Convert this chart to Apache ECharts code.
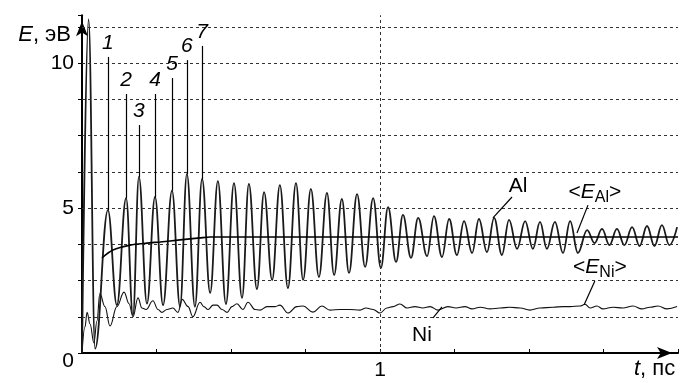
<!DOCTYPE html>
<html><head><meta charset="utf-8">
<script src="https://cdn.jsdelivr.net/npm/echarts@6/dist/echarts.min.js"></script>
<style>html,body{margin:0;padding:0;background:#fff}#c{width:680px;height:383px}</style>
</head><body><div id="c"></div>
<script>
// ---- data (time in ps, energy in eV) ----
const alT = [0, 0.022, 0.044, 0.087, 0.117, 0.148, 0.171, 0.191, 0.218, 0.245, 0.272, 0.302, 0.329, 0.352, 0.379, 0.403,
  0.430, 0.456, 0.483, 0.510, 0.537, 0.560, 0.587, 0.611, 0.638, 0.664, 0.691, 0.718, 0.742, 0.768, 0.795, 0.822,
  0.846, 0.872, 0.896, 0.923, 0.950, 0.977, 1.003, 1.027, 1.054, 1.077, 1.104, 1.128, 1.158, 1.181, 1.208, 1.232,
  1.258, 1.282, 1.309, 1.332, 1.359, 1.383, 1.409, 1.433, 1.460, 1.487, 1.513, 1.537, 1.560, 1.587, 1.614, 1.638,
  1.664, 1.695, 1.720, 1.745, 1.770, 1.795, 1.820, 1.846, 1.871, 1.896, 1.921, 1.946, 1.971, 1.997];
const alE = [0, 11.5, 0.15, 4.93, 1.65, 5.34, 1.3, 6.07, 1.7, 5.38, 1.65, 5.6, 1.6, 6.17, 1.6, 6.0,
  2.07, 5.93, 1.69, 5.86, 1.9, 5.83, 2.2, 5.55, 2.52, 5.79, 2.24, 5.86, 2.52, 5.66, 2.62, 5.52,
  2.69, 5.31, 2.76, 5.48, 2.97, 5.34, 2.93, 5.03, 3.14, 4.76, 3.28, 4.66, 3.34, 4.72, 3.31, 4.62,
  3.38, 4.55, 3.45, 4.62, 3.48, 4.66, 3.38, 4.59, 3.59, 4.55, 3.59, 4.52, 3.59, 4.52, 3.45, 4.55,
  3.45, 4.24, 3.79, 4.28, 3.72, 4.28, 3.72, 4.34, 3.69, 4.38, 3.69, 4.41, 3.72, 4.34];
const niT = [0, 0.010, 0.017, 0.027, 0.040, 0.050, 0.060, 0.077, 0.094, 0.117, 0.141, 0.158, 0.171, 0.188, 0.201, 0.215,
  0.238, 0.255, 0.268, 0.285, 0.305, 0.322, 0.336, 0.356, 0.372, 0.396, 0.409, 0.423, 0.440, 0.453, 0.470, 0.487,
  0.503, 0.520, 0.540, 0.557, 0.581, 0.597, 0.621, 0.648, 0.664, 0.691, 0.721, 0.742, 0.775, 0.805, 0.832, 0.866,
  0.899, 0.933, 0.953, 0.977, 1.000, 1.023, 1.044, 1.067, 1.091, 1.117, 1.144, 1.168, 1.195, 1.228, 1.255, 1.285,
  1.309, 1.336, 1.369, 1.403, 1.436, 1.470, 1.503, 1.537, 1.581, 1.614, 1.638, 1.671, 1.688, 1.705, 1.728, 1.748,
  1.782, 1.815, 1.849, 1.879, 1.906, 1.933, 1.963, 1.997];
const niE = [0, 0.9, 1.4, 1.0, 0.35, 1.1, 2.05, 1.6, 0.93, 1.6, 2.1, 1.7, 1.25, 1.9, 1.55, 1.5,
  1.8, 1.5, 1.4, 1.5, 1.55, 1.4, 1.85, 1.6, 1.25, 1.75, 1.6, 1.5, 1.65, 1.65, 1.5, 1.4,
  1.6, 1.7, 1.5, 1.75, 1.5, 1.48, 1.6, 1.6, 1.65, 1.38, 1.6, 1.62, 1.41, 1.62, 1.48, 1.5,
  1.5, 1.48, 1.55, 1.5, 1.38, 1.55, 1.6, 1.69, 1.55, 1.6, 1.55, 1.6, 1.48, 1.6, 1.55, 1.6,
  1.52, 1.58, 1.52, 1.55, 1.58, 1.55, 1.48, 1.55, 1.58, 1.6, 1.6, 1.62, 1.68, 1.55, 1.62, 1.52,
  1.58, 1.55, 1.62, 1.52, 1.58, 1.62, 1.52, 1.6];
const avgAlT = [0.067, 0.104, 0.161, 0.218, 0.262, 0.329, 0.396, 0.430, 2.0];
const avgAlE = [3.28, 3.55, 3.72, 3.79, 3.83, 3.9, 3.97, 4.0, 4.0];
const gridE = [1.25, 2.5, 3.75, 5, 6.25, 7.5, 8.75, 10, 11.25];
const gridT = [1];
const yTickLabels = [0, 5, 10];
const xTickLabels = [1];
const peakNames = ['1', '2', '3', '4', '5', '6', '7'];
const peakIdx = [3, 5, 7, 9, 11, 13, 15];

// ---- annotation layout ----
const peakTop = [10.21, 8.93, 7.86, 8.93, 9.48, 10.10, 10.59];
const leaders = [
  {from: [1.379, 4.66], to: [1.443, 5.38]},
  {from: [1.661, 4.14], to: [1.698, 5.10]},
  {from: [1.685, 1.66], to: [1.721, 2.48]},
  {from: [1.208, 1.59], to: [1.178, 1.21]}
];
const texts = [
  {at: [1.463, 5.76], text: '{n|Al}'},
  {at: [1.721, 5.55], text: '{n|<}{i|E}{s|Al}{n|>}'},
  {at: [1.738, 2.97], text: '{n|<}{i|E}{s|Ni}{n|>}'},
  {at: [1.141, 0.62], text: '{n|Ni}'}
];

const FONT = '"Liberation Sans", Arial, sans-serif';
const FS = 21;
const pair = (ts, es) => ts.map((t, i) => [t, es[i]]);
const richIt = {
  n: {fontSize: FS, fontFamily: FONT, color: '#000'},
  i: {fontStyle: 'italic', fontSize: FS, fontFamily: FONT, color: '#000'},
  s: {fontSize: 16, fontFamily: FONT, color: '#000', padding: [12, 0, 0, 0]},
  z: {fontSize: FS, fontFamily: FONT, color: '#000', padding: [16, 0, 0, 0]}
};
const richName = {
  n: {fontSize: 22, fontFamily: FONT, color: '#000'},
  i: {fontStyle: 'italic', fontSize: 22, fontFamily: FONT, color: '#000'}
};

const chart = echarts.init(document.getElementById('c'), null, {renderer: 'canvas'});
const base = {type: 'line', symbol: 'none', showSymbol: false, clip: false, animation: false, silent: true};

chart.setOption({
  animation: false,
  backgroundColor: '#fff',
  grid: {left: 82, right: 2, top: 15.15, bottom: 30, containLabel: false, outerBoundsMode: 'none'},
  xAxis: {
    type: 'value', min: 0, max: 2, interval: 0.25,
    axisLine: {show: true, lineStyle: {color: '#000', width: 2}, symbol: ['none', 'arrow'], symbolSize: [9, 15], symbolOffset: [0, -6]},
    axisTick: {show: true, inside: true, length: 4, lineStyle: {color: '#000', width: 1}},
    splitLine: {show: false},
    axisLabel: {fontSize: FS, fontFamily: FONT, color: '#000', margin: 7,
      formatter: v => xTickLabels.includes(v) ? String(v) : ''},
    name: '{i|t}{n|, пс}', nameLocation: 'end', nameGap: -44, nameMoveOverlap: false,
    nameTextStyle: {fontSize: 22, fontFamily: FONT, color: '#000', align: 'left', verticalAlign: 'top', padding: [5, 0, 0, 0], rich: richName}
  },
  yAxis: {
    type: 'value', min: 0, max: 11.65, interval: 1.25,
    axisLine: {show: true, lineStyle: {color: '#000', width: 2}, symbol: ['none', 'arrow'], symbolSize: [9, 15], symbolOffset: [0, -6]},
    axisTick: {show: true, inside: false, length: 4, lineStyle: {color: '#000', width: 1}},
    splitLine: {show: false},
    axisLabel: {fontSize: FS, fontFamily: FONT, color: '#000', margin: 8, rich: richIt,
      formatter: v => yTickLabels.includes(v) ? (v === 0 ? '{z|0}' : String(v)) : ''},
    name: '{i|E}{n|, эВ}', nameLocation: 'end', nameGap: -20, nameMoveOverlap: false,
    nameTextStyle: {fontSize: 22, fontFamily: FONT, color: '#000', align: 'right', verticalAlign: 'middle', padding: [0, 11, 0, 0], rich: richName}
  },
  series: [
    Object.assign({}, base, {
      name: 'grid', data: [], z: 1,
      markLine: {silent: true, symbol: ['none', 'none'], animation: false,
        lineStyle: {type: [3, 3], color: '#333', width: 1}, label: {show: false},
        data: gridE.map(v => ({yAxis: v})).concat(gridT.map(t => ({xAxis: t})))}
    }),
    Object.assign({}, base, {
      name: 'Ni', data: pair(niT, niE), z: 3, smooth: 0.4, smoothMonotone: 'x',
      lineStyle: {color: '#111', width: 1.1}
    }),
    Object.assign({}, base, {
      name: 'Al', data: pair(alT, alE), z: 4, smooth: 0.4, smoothMonotone: 'x',
      lineStyle: {color: '#1a1a1a', width: 1.8}
    }),
    Object.assign({}, base, {
      name: '<E_Al>', data: pair(avgAlT, avgAlE), z: 5, smooth: 0.3,
      lineStyle: {color: '#000', width: 1.6}
    }),
    Object.assign({}, base, {
      name: 'annotations', data: [], z: 6,
      markLine: {silent: true, symbol: ['none', 'none'], animation: false,
        lineStyle: {type: 'solid', color: '#000', width: 1.2},
        label: {show: true, position: 'end', distance: 3, fontSize: FS, fontStyle: 'italic', fontFamily: FONT, color: '#000',
          formatter: p => p.name || ''},
        data: peakNames.map((n, k) => [
          {name: n, coord: [alT[peakIdx[k]], alE[peakIdx[k]]]},
          {coord: [alT[peakIdx[k]], peakTop[k]]}
        ]).concat(leaders.map(l => [{name: '', coord: l.from}, {coord: l.to}]))
      },
      markPoint: {silent: true, animation: false, symbol: 'circle', symbolSize: 1, itemStyle: {color: 'rgba(0,0,0,0)'},
        label: {show: true, position: 'inside', fontSize: FS, fontFamily: FONT, color: '#000', rich: richIt,
          formatter: p => p.name},
        data: texts.map(t => ({name: t.text, coord: t.at}))}
    })
  ]
});
</script>
</body></html>
